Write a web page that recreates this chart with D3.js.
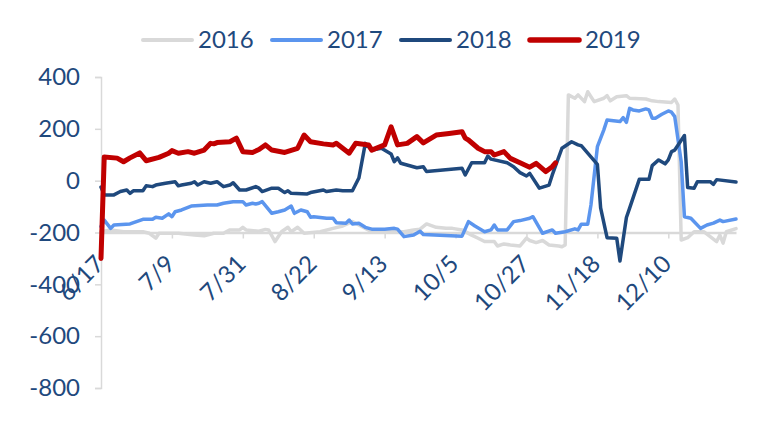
<!DOCTYPE html>
<html><head><meta charset="utf-8">
<script src="https://cdn.jsdelivr.net/npm/d3@7"></script>
<style>html,body{margin:0;padding:0;background:#fff;}svg{display:block;}</style>
</head><body>
<svg id="chart" width="782" height="448"></svg>
<script>
// ---- data ----
const seriesNames = ["2016", "2017", "2018", "2019"];
const tickLabels = ["6/17","7/9","7/31","8/22","9/13","10/5","10/27","11/18","12/10"];
const yTicks = [400, 200, 0, -200, -400, -600, -800];
const fmt = d3.timeFormat("%-m/%-d");
const categories = d3.timeDay.range(new Date(2019,5,17), new Date(2020,0,1)).map(fmt);

const s2016 = [["6/17",-197],["6/20",-190],["6/24",-197],["6/30",-197],["7/2",-203],["7/4",-222],["7/5",-203],["7/11",-203],["7/16",-210],["7/19",-213],["7/22",-203],["7/25",-203],["7/27",-190],["7/30",-190],["7/31",-180],["8/1",-190],["8/5",-195],["8/7",-188],["8/8",-190],["8/10",-235],["8/12",-197],["8/14",-180],["8/15",-197],["8/17",-180],["8/19",-203],["8/24",-197],["8/28",-184],["8/31",-175],["9/3",-158],["9/5",-171],["9/7",-184],["9/9",-197],["9/19",-197],["9/22",-190],["9/24",-187],["9/26",-167],["9/29",-180],["10/2",-184],["10/4",-184],["10/7",-190],["10/10",-210],["10/12",-222],["10/14",-235],["10/17",-235],["10/18",-252],["10/20",-244],["10/22",-248],["10/25",-252],["10/27",-222],["10/28",-231],["10/30",-239],["11/1",-231],["11/3",-248],["11/6",-252],["11/7",-255],["11/8",-248],["11/9",331],["11/11",318],["11/12",331],["11/14",305],["11/15",343],["11/17",305],["11/20",318],["11/21",328],["11/22",308],["11/24",324],["11/27",328],["11/28",318],["12/3",315],["12/5",308],["12/7",305],["12/11",302],["12/12",315],["12/13",292],["12/14",-229],["12/16",-220],["12/18",-197],["12/21",-197],["12/23",-216],["12/25",-235],["12/26",-210],["12/27",-241],["12/28",-197],["12/31",-185]];

const s2017 = [["6/17",-177],["6/18",-152],["6/20",-184],["6/21",-171],["6/26",-167],["6/30",-149],["7/3",-149],["7/4",-141],["7/6",-145],["7/8",-128],["7/9",-139],["7/10",-120],["7/12",-113],["7/15",-98],["7/20",-94],["7/23",-94],["7/25",-87],["7/26",-85],["7/28",-81],["7/31",-81],["8/1",-94],["8/3",-87],["8/4",-90],["8/5",-87],["8/6",-81],["8/9",-126],["8/11",-120],["8/13",-113],["8/15",-98],["8/16",-126],["8/18",-113],["8/20",-120],["8/21",-141],["8/22",-139],["8/26",-145],["8/28",-145],["8/29",-162],["9/1",-164],["9/2",-152],["9/3",-167],["9/5",-164],["9/7",-180],["9/9",-187],["9/13",-187],["9/16",-184],["9/17",-187],["9/19",-216],["9/22",-210],["9/24",-195],["9/25",-208],["10/7",-214],["10/9",-158],["10/11",-175],["10/14",-197],["10/16",-190],["10/17",-171],["10/18",-190],["10/21",-190],["10/23",-158],["10/25",-154],["10/28",-145],["10/29",-139],["11/1",-203],["11/4",-190],["11/5",-203],["11/8",-197],["11/11",-186],["11/12",-190],["11/13",-168],["11/15",-168],["11/16",-94],["11/18",131],["11/20",196],["11/21",234],["11/25",228],["11/26",243],["11/27",225],["11/28",279],["11/29",273],["12/1",269],["12/3",277],["12/4",273],["12/5",241],["12/6",241],["12/8",256],["12/10",269],["12/11",264],["12/12",247],["12/14",73],["12/15",-139],["12/17",-145],["12/20",-184],["12/22",-171],["12/24",-164],["12/26",-152],["12/27",-158],["12/31",-148]];

const s2018 = [["6/17",-25],["6/18",-55],["6/21",-55],["6/23",-42],["6/25",-36],["6/26",-49],["6/27",-39],["6/30",-39],["7/1",-20],["7/3",-23],["7/4",-17],["7/7",-10],["7/10",-4],["7/11",-20],["7/12",-17],["7/15",-10],["7/16",-4],["7/17",-17],["7/19",-4],["7/21",-10],["7/23",-4],["7/25",-23],["7/27",-17],["7/28",-8],["7/30",-36],["8/1",-36],["8/4",-23],["8/5",-29],["8/6",-42],["8/9",-29],["8/11",-29],["8/13",-46],["8/14",-39],["8/15",-49],["8/20",-51],["8/21",-46],["8/25",-36],["8/26",-42],["8/29",-36],["8/31",-39],["9/3",-39],["9/5",10],["9/7",144],["9/9",118],["9/12",125],["9/15",103],["9/16",73],["9/17",88],["9/18",67],["9/23",50],["9/25",54],["9/26",35],["10/7",48],["10/8",22],["10/10",69],["10/14",69],["10/15",95],["10/16",83],["10/21",69],["10/23",54],["10/25",31],["10/27",18],["10/28",28],["10/31",-29],["11/3",-17],["11/4",22],["11/7",125],["11/10",150],["11/12",138],["11/13",135],["11/18",63],["11/19",-105],["11/21",-220],["11/24",-222],["11/25",-310],["11/27",-142],["11/28",-106],["12/1",5],["12/4",5],["12/5",58],["12/7",80],["12/9",65],["12/10",80],["12/11",112],["12/12",118],["12/15",174],["12/16",-26],["12/18",-29],["12/19",-4],["12/23",-4],["12/24",-14],["12/25",4],["12/31",-5]];

const s2019 = [["6/17",-300],["6/18",91],["6/22",87],["6/24",73],["6/26",88],["6/29",107],["7/1",77],["7/5",90],["7/8",106],["7/9",116],["7/11",106],["7/14",112],["7/16",106],["7/19",118],["7/21",144],["7/22",142],["7/23",147],["7/27",150],["7/29",164],["7/31",112],["8/3",109],["8/5",120],["8/7",138],["8/9",118],["8/13",109],["8/17",125],["8/19",176],["8/21",150],["8/25",142],["8/28",138],["8/29",144],["9/2",106],["9/4",144],["9/8",138],["9/9",118],["9/13",138],["9/15",208],["9/17",138],["9/20",144],["9/23",170],["9/25",146],["9/29",176],["10/3",182],["10/7",189],["10/8",164],["10/9",157],["10/12",125],["10/14",112],["10/16",112],["10/17",99],["10/20",112],["10/22",86],["10/25",69],["10/28",52],["10/30",67],["11/2",35],["11/4",54],["11/5",69]];

const seriesData = [s2016, s2017, s2018, s2019];
const colors = ["#D9D9D9", "#5B95EE", "#1F497D", "#C00000"];
const widths = [3.5, 3.5, 3.5, 5];

// ---- chart ----
const svg = d3.select("#chart");
const textColor = "#1F497D";
const font = "Lato, 'Liberation Sans', sans-serif";

const x = d3.scalePoint().domain(categories).range([101, 736]);
const y = d3.scaleLinear().domain([-800, 400]).range([388, 77]);

// y axis
const yAxis = svg.append("g").attr("transform", "translate(101,0)")
  .call(d3.axisLeft(y).tickValues(yTicks).tickSize(6).tickPadding(15).tickFormat(d3.format("d")));
yAxis.select(".domain").attr("stroke", "#D9D9D9").attr("stroke-width", 1.5);
yAxis.selectAll(".tick line").attr("stroke", "#D9D9D9").attr("stroke-width", 1.5);
yAxis.selectAll("text").attr("fill", textColor).style("font-family", font).style("font-size", "24px");
yAxis.selectAll(".tick text").text(d => d < 0 ? "-" + Math.abs(d) : d);

// x axis at -200
const xAxis = svg.append("g").attr("transform", `translate(0,${y(-200)})`)
  .call(d3.axisBottom(x).tickValues(tickLabels).tickSize(6).tickSizeOuter(0));
xAxis.select(".domain").attr("stroke", "#D9D9D9").attr("stroke-width", 2.5);
xAxis.selectAll(".tick line").attr("stroke", "#D9D9D9").attr("stroke-width", 1.5);
xAxis.selectAll(".tick text")
  .attr("fill", textColor).style("font-family", font).style("font-size", "24px")
  .attr("text-anchor", "end").attr("dy", null).attr("y", 0)
  .attr("transform", "translate(4,33) rotate(-45)");

// lines
const line = d3.line().x(d => x(d[0])).y(d => y(d[1]));
seriesData.forEach((s, i) => {
  svg.append("path").datum(s)
    .attr("fill", "none").attr("stroke", colors[i]).attr("stroke-width", widths[i])
    .attr("stroke-linejoin", "round").attr("stroke-linecap", "round")
    .attr("d", line);
});

// legend
const legend = svg.append("g");
seriesNames.forEach((n, i) => {
  const g = legend.append("g").attr("transform", `translate(${143 + i * 129},40)`);
  g.append("line").attr("x1", 0).attr("x2", 49).attr("y1", 0).attr("y2", 0)
    .attr("stroke", colors[i]).attr("stroke-width", widths[i] + 0.5).attr("stroke-linecap", "round");
  g.append("text").attr("x", 55).attr("y", 0).attr("dy", "0.35em")
    .attr("fill", textColor).style("font-family", font).style("font-size", "24px").text(n);
});
</script>
</body></html>
